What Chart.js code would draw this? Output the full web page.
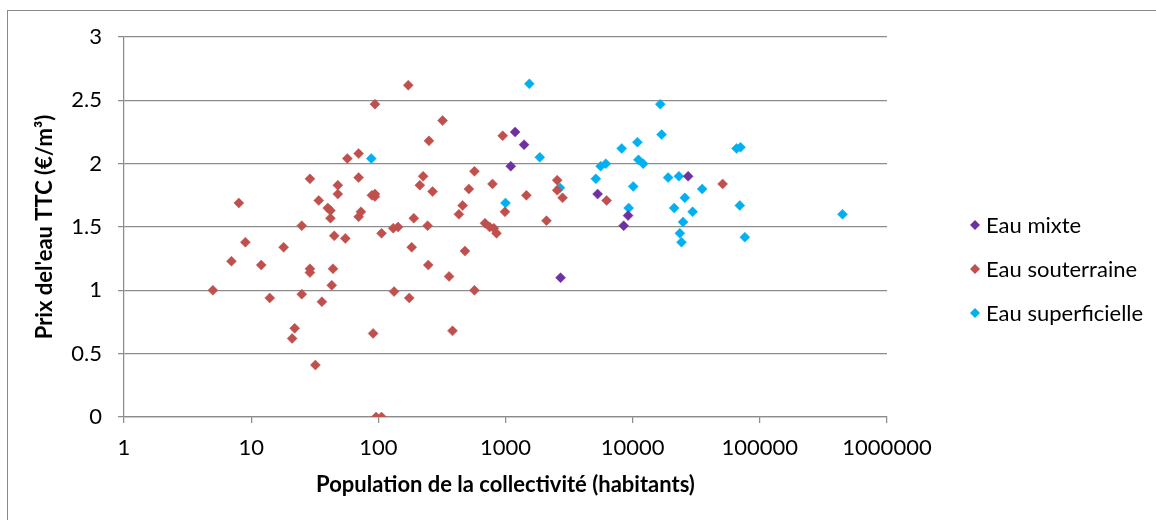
<!DOCTYPE html>
<html>
<head>
<meta charset="utf-8">
<script src="https://cdn.jsdelivr.net/npm/chart.js@4"></script>
<style>
  html, body { margin: 0; padding: 0; background: #fff; }
  #wrap { width: 1156px; height: 520px; }
</style>
</head>
<body>
<div id="wrap"><canvas id="prixChart" width="1156" height="520"></canvas></div>
<script>
// Series names
const seriesNames = ['Eau mixte', 'Eau souterraine', 'Eau superficielle'];

// Eau mixte
const mixtePop = [1100, 1190, 1400, 2710, 5300, 8500, 9200, 27300];
const mixtePrix = [1.98, 2.25, 2.15, 1.10, 1.76, 1.51, 1.59, 1.90];

// Eau souterraine
const souterrainePop = [5, 7, 8, 9, 12, 14, 18, 21, 22, 25, 25, 29, 29, 29, 32, 34, 36, 40, 42, 42,
  43, 44, 45, 48, 48, 55, 57, 70, 70, 70, 73, 89, 94, 94, 91, 94, 96, 106, 106, 131,
  143, 133, 172, 175, 183, 190, 212, 225, 244, 247, 250, 267, 320, 360, 383, 430, 460, 480, 515, 570,
  570, 690, 750, 810, 850, 790, 950, 990, 1460, 2100, 2550, 2550, 2810, 6240, 51000];
const souterrainePrix = [1.00, 1.23, 1.69, 1.38, 1.20, 0.94, 1.34, 0.62, 0.70, 1.51, 0.97, 1.88, 1.17, 1.14, 0.41, 1.71, 0.91, 1.65, 1.63, 1.57,
  1.04, 1.17, 1.43, 1.83, 1.76, 1.41, 2.04, 2.08, 1.89, 1.58, 1.62, 1.75, 1.74, 1.76, 0.66, 2.47, 0, 0, 1.45, 1.49,
  1.50, 0.99, 2.62, 0.94, 1.34, 1.57, 1.83, 1.90, 1.51, 1.20, 2.18, 1.78, 2.34, 1.11, 0.68, 1.60, 1.67, 1.31, 1.80, 1.94,
  1.00, 1.53, 1.50, 1.49, 1.45, 1.84, 2.22, 1.62, 1.75, 1.55, 1.87, 1.79, 1.73, 1.71, 1.84];

// Eau superficielle
const superficiellePop = [88, 1000, 1540, 1860, 2680, 5130, 5600, 6150, 8200, 9300, 10100, 10900, 11100, 12100, 16500,
  16900, 19000, 21200, 23100, 23500, 24200, 24900, 25700, 29600, 35200, 65600, 70500, 69600, 76200, 447000];
const superficiellePrix = [2.04, 1.69, 2.63, 2.05, 1.81, 1.88, 1.98, 2.00, 2.12, 1.65, 1.82, 2.17, 2.03, 2.00, 2.47,
  2.23, 1.89, 1.65, 1.90, 1.45, 1.38, 1.54, 1.73, 1.62, 1.80, 2.12, 2.13, 1.67, 1.42, 1.60];

// Axis ticks
const xTicks = [1, 10, 100, 1000, 10000, 100000, 1000000];
const yTicks = [0, 0.5, 1, 1.5, 2, 2.5, 3];

const colors = ['#7030A0', '#C0504D', '#00B0F0'];
const gridGray = '#8c8c8c';
const fontFamily = 'Lato, "DejaVu Sans", sans-serif';

function toPoints(xs, ys) {
  return xs.map((x, i) => ({ x: x, y: ys[i] }));
}

const allSeries = [
  toPoints(mixtePop, mixtePrix),
  toPoints(souterrainePop, souterrainePrix),
  toPoints(superficiellePop, superficiellePrix)
];

// Outer border + legend on the right, Excel style
const frameAndLegend = {
  id: 'frameAndLegend',
  afterDraw(chart) {
    const ctx = chart.ctx;
    ctx.save();
    ctx.strokeStyle = '#8a8a8a';
    ctx.lineWidth = 1;
    ctx.strokeRect(7.5, 10.5, 1200, 600);

    ctx.font = '22px ' + fontFamily;
    ctx.textBaseline = 'middle';
    chart.data.datasets.forEach((ds, i) => {
      const y = 225 + i * 44;
      const x = 975;
      const r = 5;
      ctx.beginPath();
      ctx.moveTo(x - r, y);
      ctx.lineTo(x, y - r);
      ctx.lineTo(x + r, y);
      ctx.lineTo(x, y + r);
      ctx.closePath();
      ctx.fillStyle = ds.backgroundColor;
      ctx.fill();
      ctx.fillStyle = '#000';
      ctx.fillText(ds.label, 986, y + 1);
    });
    ctx.restore();
  }
};

const ctx = document.getElementById('prixChart').getContext('2d');
new Chart(ctx, {
  type: 'scatter',
  data: {
    datasets: seriesNames.map((name, i) => ({
      label: name,
      data: allSeries[i],
      pointStyle: 'rectRot',
      pointRadius: 5,
      pointHoverRadius: 5,
      borderWidth: 0.5,
      backgroundColor: colors[i],
      borderColor: colors[i]
    }))
  },
  options: {
    responsive: false,
    animation: false,
    layout: { padding: { left: 0, right: 269, top: 37, bottom: 0 } },
    plugins: {
      legend: { display: false },
      tooltip: { enabled: false }
    },
    scales: {
      x: {
        type: 'logarithmic',
        min: 1,
        max: 1000000,
        afterBuildTicks: (axis) => { axis.ticks = xTicks.map(v => ({ value: v })); },
        afterFit: (axis) => { axis.height = 103; },
        grid: { drawOnChartArea: false, drawTicks: true, tickLength: 6, color: gridGray, lineWidth: 1.25 },
        border: { color: gridGray, width: 1.25 },
        ticks: {
          color: '#000',
          font: { family: fontFamily, size: 22 },
          padding: 12,
          maxRotation: 0,
          autoSkip: false,
          callback: (v) => String(v)
        },
        title: {
          display: true,
          text: 'Population de la collectivité (habitants)',
          color: '#000',
          font: { family: fontFamily, size: 22, weight: 'bold' },
          padding: { top: 0, bottom: 22 }
        }
      },
      y: {
        min: 0,
        max: 3,
        afterBuildTicks: (axis) => { axis.ticks = yTicks.map(v => ({ value: v })); },
        afterFit: (axis) => { axis.width = 124; },
        grid: { drawTicks: true, tickLength: 6, color: gridGray, lineWidth: 1.25 },
        border: { color: gridGray, width: 1.25 },
        ticks: {
          color: '#000',
          font: { family: fontFamily, size: 22 },
          padding: 16,
          callback: (v) => String(v)
        },
        title: {
          display: true,
          text: "Prix del'eau TTC (€/m³)",
          color: '#000',
          font: { family: fontFamily, size: 22, weight: 'bold' },
          padding: { top: 32, bottom: 0 }
        }
      }
    }
  },
  plugins: [frameAndLegend]
});
</script>
</body>
</html>
